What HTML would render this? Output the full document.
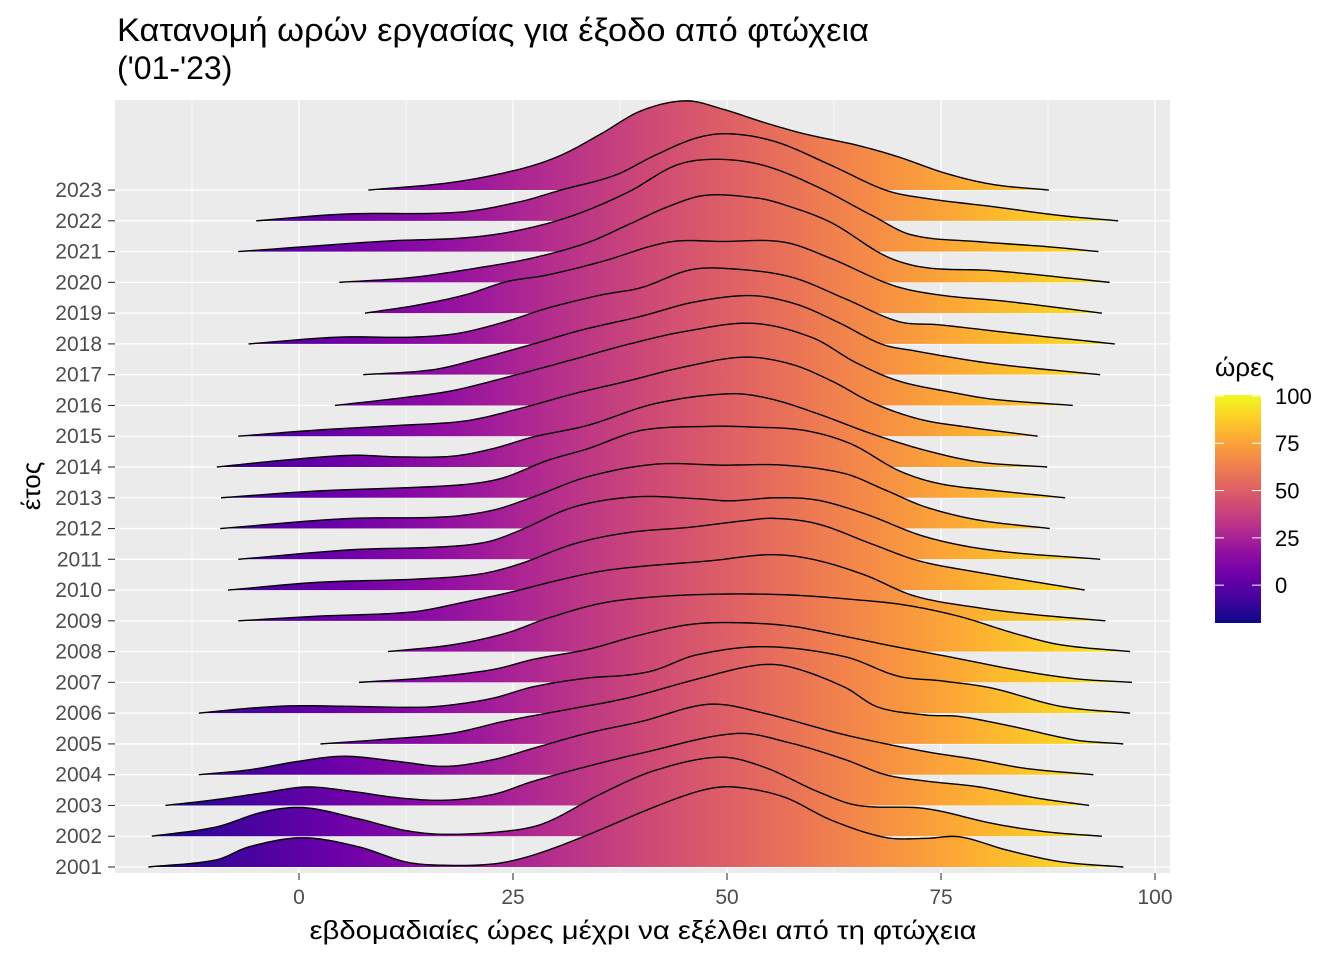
<!DOCTYPE html>
<html><head><meta charset="utf-8">
<style>
html,body{margin:0;padding:0;background:#fff;}
svg{display:block;font-family:"Liberation Sans",Arial,sans-serif;}
</style></head>
<body>
<svg id="chart" width="1344" height="960" viewBox="0 0 1344 960" xmlns="http://www.w3.org/2000/svg">
<defs>
<linearGradient id="plasmaX" gradientUnits="userSpaceOnUse" x1="128" y1="0" x2="1155" y2="0">
<stop offset="0" stop-color="#0d0887"/><stop offset="0.1" stop-color="#41049d"/><stop offset="0.2" stop-color="#6a00a8"/><stop offset="0.3" stop-color="#8f0da4"/><stop offset="0.4" stop-color="#b12a90"/><stop offset="0.5" stop-color="#cc4778"/><stop offset="0.6" stop-color="#e16462"/><stop offset="0.7" stop-color="#f2844b"/><stop offset="0.8" stop-color="#fca636"/><stop offset="0.9" stop-color="#fcce25"/><stop offset="1" stop-color="#f0f921"/>
</linearGradient>
<linearGradient id="plasmaY" x1="0" y1="1" x2="0" y2="0">
<stop offset="0" stop-color="#0d0887"/><stop offset="0.1" stop-color="#41049d"/><stop offset="0.2" stop-color="#6a00a8"/><stop offset="0.3" stop-color="#8f0da4"/><stop offset="0.4" stop-color="#b12a90"/><stop offset="0.5" stop-color="#cc4778"/><stop offset="0.6" stop-color="#e16462"/><stop offset="0.7" stop-color="#f2844b"/><stop offset="0.8" stop-color="#fca636"/><stop offset="0.9" stop-color="#fcce25"/><stop offset="1" stop-color="#f0f921"/>
</linearGradient>
</defs>
<text x="117" y="41" font-size="32" textLength="752" lengthAdjust="spacingAndGlyphs" fill="#000">Κατανομή ωρών εργασίας για έξοδο από φτώχεια</text>
<text x="117" y="79" font-size="32" fill="#000">('01-'23)</text>
<rect x="115" y="100" width="1055" height="773" fill="#ebebeb"/>
<g id="grid"></g>
<g id="ridges"></g>
<g id="axes"></g>
<text x="643" y="939" font-size="26" textLength="667" lengthAdjust="spacingAndGlyphs" text-anchor="middle" fill="#000">εβδομαδιαίες ώρες μέχρι να εξέλθει από τη φτώχεια</text>
<text transform="translate(40,486) rotate(-90)" font-size="26" text-anchor="middle" fill="#000">έτος</text>
<g>
<text x="1215" y="376" font-size="26" fill="#000">ώρες</text>
<rect x="1215" y="395" width="46" height="228" fill="url(#plasmaY)"/>
<g id="legendTicks"></g>
</g>
</svg>
<script>
const years = [2001,2002,2003,2004,2005,2006,2007,2008,2009,2010,2011,2012,2013,2014,2015,2016,2017,2018,2019,2020,2021,2022,2023];
const hours = [
[-17.6,-9.7,-5.8,0.4,6.9,12.4,16.4,22.7,27.4,33.7,41.6,47.2,50.8,56.6,62.2,68.5,73.2,77.2,82.7,89,96.3],
[-17.2,-9.7,-4.2,0.6,6.9,12.4,17.1,25,29,35.3,41.6,49.1,54.3,60.6,65.3,73.2,81.1,87.4,93.8],
[-15.6,-9.7,-4.2,0.9,6.1,11.6,17.1,22.7,27.4,33.7,40,51.1,57.4,63.7,68.5,73,79.5,86,92.3],
[-11.7,-5.8,-0.2,5.3,11.6,17.1,22.7,27.4,33.7,40,47.9,54.3,63.7,73.2,79,85,92.8],
[2.5,10,17.9,24.2,30.6,38.5,46.4,53.5,57.4,63.7,67.6,73.2,77.2,83.5,90.6,96.3],
[-11.7,-5.8,-0.6,6.1,14,17.9,22.7,27.4,33.7,38.5,41.6,46.4,54.3,63.7,70,75,81,89,97.1],
[7,14.8,22.7,27.4,33.7,39.3,45.6,51.1,57.4,63.7,69.3,75.6,83.5,90.6,97.3],
[10.4,17.9,24.2,29,35.3,41.6,49.5,57.4,65.3,70.9,77.2,83.5,89,97.1],
[-7.1,2.1,13.2,19.5,25,30,35,40,48,55,60,66,72,80,86,94.2],
[-8.3,2.1,14,21.1,25.8,32.1,38.5,45.6,51.9,55.5,60.6,66.9,72.4,79.5,91.8],
[-7.1,6.1,16.4,21.9,25.8,32.1,39.3,46.4,50.3,55.8,60.6,66.1,73.2,81.1,93.6],
[-9.2,5.3,17.1,22.7,27.4,33.7,41.6,49.5,56.6,63.7,68.5,73.2,79.5,87.7],
[-9.1,2.1,17.9,23.5,29,33.7,40,47.9,52.7,59,64.5,70,74.8,81.1,89.5],
[-9.6,-1.8,6.1,11.6,17.9,22.7,27.4,33.7,41.6,50.3,55,60.6,66.9,73.2,79.5,87.4],
[-7.1,2.1,11.6,19.5,25.8,32.1,38.5,44.8,51.9,57.4,62.2,66.9,72.4,78,86.3],
[4.2,12.4,17.9,24.2,32.1,38.5,45,53,60,65,70,76.4,81.1,90.4],
[7.5,15.6,21.1,27.4,33,40,46,52.7,58,63,68,71.6,81,93.6],
[-5.9,4.5,13.2,18.7,24.2,29,35.3,40,45.6,50,57.4,63.7,70,74.8,85,95.3],
[7.7,14,19.5,24.2,29,35.3,43.2,49.5,56.6,62.2,69.3,74.8,82.7,93.8],
[4.7,13.2,21.1,27.4,33.7,38.5,43.2,47.5,53.5,56.6,62.2,68.5,73.2,81.1,94.7],
[-7.1,10,19.5,25.8,32.1,38.5,44,48.7,54.3,60.6,66.9,71.6,79.5,87.4,93.4],
[-5,5.3,18.7,25.8,30.6,36.9,41.6,46.4,50.3,55.8,62.2,68.5,73.2,81.1,89,95.7],
[8.1,17.9,25.8,30.6,35.3,40,45.2,49.5,54.3,59,65.3,70,75.6,81.1,87.6]
];
const densities = [
[0,0.23,0.66,0.95,0.66,0.17,0.06,0.1,0.39,1.04,1.96,2.5,2.6,2.28,1.52,0.96,0.93,0.98,0.55,0.17,0],
[0,0.3,0.79,0.93,0.57,0.19,0.06,0.19,0.46,1.38,2.14,2.57,2.25,1.45,1.0,0.9,0.41,0.14,0],
[0,0.19,0.41,0.6,0.46,0.25,0.17,0.36,0.79,1.27,1.7,2.34,2.03,1.5,1.0,0.8,0.6,0.25,0],
[0,0.16,0.43,0.6,0.43,0.27,0.49,0.86,1.35,1.73,2.29,2.0,1.3,0.75,0.5,0.2,0],
[0,0.15,0.35,0.75,1.08,1.5,2.1,2.56,2.5,1.85,1.2,0.94,0.89,0.56,0.13,0],
[0,0.16,0.24,0.22,0.19,0.27,0.49,0.86,1.14,1.24,1.4,1.89,2.16,1.84,1.2,1.05,0.81,0.22,0],
[0,0.15,0.42,0.75,1.07,1.5,1.88,1.94,1.83,1.5,1.18,0.85,0.42,0.12,0],
[0,0.22,0.6,1.08,1.57,1.78,1.87,1.84,1.68,1.51,1.14,0.6,0.22,0],
[0,0.15,0.29,0.62,0.95,1.3,1.6,1.77,1.95,2.15,2.0,1.5,0.8,0.4,0.2,0],
[0,0.25,0.36,0.52,0.85,1.5,1.87,2.04,2.25,2.33,2.15,1.5,0.95,0.57,0],
[0,0.31,0.4,0.56,0.94,1.7,2.03,1.97,1.9,2.0,1.92,1.48,0.73,0.29,0],
[0,0.32,0.38,0.6,1.03,1.68,2.09,2.06,2.06,1.79,1.25,0.7,0.27,0],
[0,0.22,0.4,0.62,1.21,1.59,2.19,2.32,2.3,2.19,1.75,0.89,0.46,0.24,0],
[0,0.22,0.38,0.33,0.35,0.6,0.98,1.35,2.06,2.38,2.22,1.73,1.08,0.54,0.16,0],
[0,0.2,0.35,0.5,0.9,1.38,1.8,2.24,2.57,2.35,1.8,1.1,0.56,0.3,0],
[0,0.26,0.48,0.91,1.5,1.99,2.4,2.67,2.2,1.4,0.8,0.42,0.2,0],
[0,0.16,0.52,1.0,1.45,1.9,2.35,2.57,2.3,1.7,1.0,0.79,0.36,0],
[0,0.22,0.22,0.35,0.73,1.16,1.59,1.83,2.4,2.45,2.18,1.48,0.73,0.62,0.3,0],
[0,0.27,0.6,1.02,1.24,1.67,2.31,2.33,2.31,1.77,0.91,0.59,0.38,0],
[0,0.16,0.48,0.8,1.29,1.88,2.47,2.83,2.74,2.53,1.94,0.86,0.48,0.38,0],
[0,0.34,0.45,0.7,1.18,1.94,2.8,3.0,2.8,2.1,1.18,0.54,0.32,0.16,0],
[0,0.22,0.28,0.62,1.0,1.48,2.13,2.69,2.83,2.56,1.8,1.0,0.73,0.46,0.17,0],
[0,0.25,0.68,1.13,1.83,2.58,2.9,2.63,2.2,1.83,1.45,1.08,0.54,0.18,0]
];
const xTicks = [0,25,50,75,100];
const xMinor = [-12.5,12.5,37.5,62.5,87.5];
const legendTicks = [0,25,50,75,100];

const NS = "http://www.w3.org/2000/svg";
const PX0 = 299, PXU = 8.56;
const Y0 = 867, ROW = 30.77;
function xs(h){ return PX0 + h*PXU; }
function ys(i){ return Y0 - i*ROW; }
function mk(tag, attrs, parent){ const e=document.createElementNS(NS,tag); for(const k in attrs) e.setAttribute(k,attrs[k]); parent.appendChild(e); return e; }

const grid = document.getElementById('grid');
xMinor.forEach(v=>{
  const l = mk('line',{x1:xs(v),x2:xs(v),y1:100,y2:873,stroke:'#fff','stroke-width':0.6},grid);
  
  
});
xTicks.forEach(v=>{
  const l = mk('line',{x1:xs(v),x2:xs(v),y1:100,y2:873,stroke:'#fff','stroke-width':1.3},grid);
  
  
});
years.forEach((yr,i)=>{
  const l = mk('line',{x1:115,x2:1170,y1:ys(i),y2:ys(i),stroke:'#fff','stroke-width':1.3},grid);
  
  
});

// cubic Hermite interpolation in x with centred-difference tangents
function curvePoints(hs, ds, base){
  const n = hs.length;
  const m = hs.map((h,k)=>{
    if(k===0) return (ds[1]-ds[0])/(hs[1]-hs[0]);
    if(k===n-1) return (ds[n-1]-ds[n-2])/(hs[n-1]-hs[n-2]);
    return (ds[k+1]-ds[k-1])/(hs[k+1]-hs[k-1]);
  });
  const out = [[xs(hs[0]), base - ds[0]*ROW]];
  for(let k=0;k<n-1;k++){
    const dx = hs[k+1]-hs[k];
    for(let s=1;s<=12;s++){
      const t=s/12, t2=t*t, t3=t2*t;
      const h00=2*t3-3*t2+1, h10=t3-2*t2+t, h01=-2*t3+3*t2, h11=t3-t2;
      let v = h00*ds[k]+h10*dx*m[k]+h01*ds[k+1]+h11*dx*m[k+1];
      if(v<0) v=0;
      out.push([xs(hs[k]+t*dx), base - v*ROW]);
    }
  }
  return out;
}

const ridges = document.getElementById('ridges');
for(let i=years.length-1;i>=0;i--){
  const base = ys(i);
  const pts = curvePoints(hours[i], densities[i], base);
  const line = pts.map((p,k)=>(k?'L':'M')+p[0].toFixed(2)+','+p[1].toFixed(2)).join(' ');
  const fill = mk('path',{d: line+' L'+pts[pts.length-1][0].toFixed(2)+','+base+' L'+pts[0][0].toFixed(2)+','+base+' Z', fill:'url(#plasmaX)', stroke:'none'}, ridges);
  
  
  const st = mk('path',{d: line, fill:'none', stroke:'#000','stroke-width':1.4,'stroke-linejoin':'round'}, ridges);
  
  
}

const axes = document.getElementById('axes');
years.forEach((yr,i)=>{
  const t = mk('line',{x1:108,x2:115,y1:ys(i),y2:ys(i),stroke:'#333','stroke-width':1.1},axes);
  
  
  const lb = mk('text',{x:102,y:ys(i)+7,'font-size':21,'text-anchor':'end',fill:'#4d4d4d'},axes);
  lb.textContent = yr;
  
  
});
xTicks.forEach(v=>{
  const t = mk('line',{x1:xs(v),x2:xs(v),y1:873,y2:880,stroke:'#333','stroke-width':1.1},axes);
  
  
  const lb = mk('text',{x:xs(v),y:904,'font-size':21,'text-anchor':'middle',fill:'#4d4d4d'},axes);
  lb.textContent = v;
  
  
});

const lg = document.getElementById('legendTicks');
const LB_TOP = 395, LB_BOT = 623, L_MIN = -20, L_MAX = 100.5;
function ly(v){ return LB_BOT - (v-L_MIN)/(L_MAX-L_MIN)*(LB_BOT-LB_TOP); }
legendTicks.forEach(v=>{
  const a = mk('line',{x1:1215,x2:1224,y1:ly(v),y2:ly(v),stroke:'#fff','stroke-width':1},lg);
  
  
  const b = mk('line',{x1:1252,x2:1261,y1:ly(v),y2:ly(v),stroke:'#fff','stroke-width':1},lg);
  
  
  const lb = mk('text',{x:1275,y:ly(v)+8,'font-size':22,fill:'#000'},lg);
  lb.textContent = v;
  
  
});
</script>
</body></html>
